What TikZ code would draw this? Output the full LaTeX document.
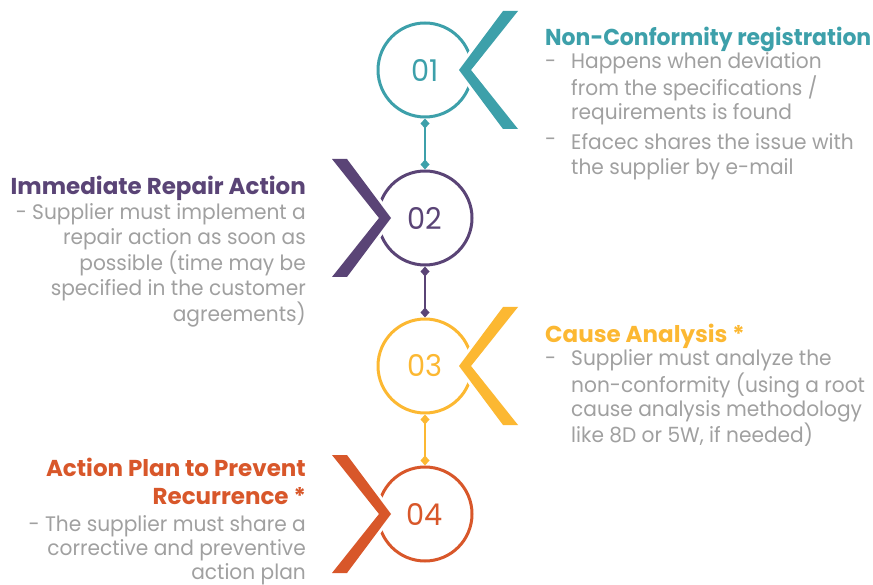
\documentclass[tikz,border=0pt]{standalone}
\usepackage{fontspec}
\setmainfont{Poppins}[FakeStretch=0.96, BoldFeatures={FakeStretch=1}]
\usetikzlibrary{arrows.meta,calc,positioning}
\definecolor{ncteal}{RGB}{61,160,170}
\definecolor{ncpurple}{RGB}{90,68,118}
\definecolor{ncyellow}{RGB}{252,184,50}
\definecolor{ncorange}{RGB}{216,87,42}
\definecolor{ncgrey}{RGB}{160,160,160}
\tikzset{
    stage/.style = {draw, circle, line width=3pt,
        minimum size=94pt, inner sep=0pt,
        font=\fontsize{30}{30}\selectfont},
    link/.style = {line width=2.5pt,
        arrows={Diamond[length=10pt,width=9pt]-Diamond[length=10pt,width=9pt]}},
    title/.style = {inner sep=0pt, font=\fontsize{23}{28}\selectfont\bfseries},
    body/.style = {inner sep=0pt, text=ncgrey, font=\fontsize{21}{24.5}\selectfont}
}
% chevron beside a stage: #1 node, #2 side (1 right, -1 left), #3 colour
\newcommand{\chevron}[3]{%
    \fill[#3, preaction={draw=white, line width=6pt, line join=miter}]
        ($(#1)+(#2*78,-59)$) -- ($(#1)+(#2*34,0)$) -- ($(#1)+(#2*78,59)$)
        -- ($(#1)+(#2*93,59)$) -- ($(#1)+(#2*46,0)$) -- ($(#1)+(#2*93,-59)$) -- cycle;}
% text blocks: first baseline on the node's base
\newcommand{\leftblock}[1]{\parbox[t]{300pt}{\raggedleft #1}}
\newcommand{\rightblock}[1]{\parbox[t]{300pt}{\raggedright #1}}

\begin{document}
\begin{tikzpicture}[x=1pt, y=-1pt]
    \useasboundingbox (0,0) rectangle (873,585);
    % the four stages
    \node [stage, draw=ncteal, text=ncteal] (c1) at (425,70) {01};
    \node [stage, draw=ncpurple, text=ncpurple, below of=c1, node distance=148pt] (c2) {02};
    \node [stage, draw=ncyellow, text=ncyellow, below of=c2, node distance=148pt] (c3) {03};
    \node [stage, draw=ncorange, text=ncorange, below of=c3, node distance=148pt] (c4) {04};
    \draw [link, ncteal] (c1) -- (c2);
    \draw [link, ncpurple] (c2) -- (c3);
    \draw [link, ncyellow] (c3) -- (c4);
    \chevron{c1}{1}{ncteal}
    \chevron{c2}{-1}{ncpurple}
    \chevron{c3}{1}{ncyellow}
    \chevron{c4}{-1}{ncorange}
    % 01
    \node [title, text=ncteal, anchor=base west] (t1) at (545,46)
        {\scalebox{0.955}[1]{Non-Conformity registration}};
    \node [body, anchor=base west] (d1a) at (545,69) {-};
    \node [body, anchor=base west] (d1) at (571,69) {\rightblock{%
        Happens when deviation\\
        from the specifications /\\
        requirements is found\\[5.5pt]
        Efacec shares the issue with\\
        the supplier by e-mail}};
    \node [body, anchor=base west] (d1b) at (545,147) {-};
    % 02
    \node [title, text=ncpurple, anchor=base east] (t2) at (306,195) {Immediate Repair Action};
    \node [body, anchor=base east] (d2) at (306,220) {\leftblock{%
        - Supplier must implement a\\
        repair action as soon as\\
        possible (time may be\\
        specified in the customer\\
        agreements)}};
    % 03
    \node [title, text=ncyellow, anchor=base west] (t3) at (545,343) {Cause Analysis *};
    \node [body, anchor=base west] (d3a) at (545,366) {-};
    \node [body, anchor=base west] (d3) at (571,366) {\rightblock{%
        Supplier must analyze the\\
        non-conformity (using a root\\
        cause analysis methodology\\
        like 8D or 5W, if needed)}};
    % 04
    \node [title, text=ncorange, anchor=base east] (t4) at (306,476) {\leftblock{%
        Action Plan to Prevent\\
        Recurrence *}};
    \node [body, anchor=base east, font=\fontsize{21}{24}\selectfont] (d4) at (306,531) {\leftblock{%
        - The supplier must share a\\
        corrective and preventive\\
        action plan}};
\end{tikzpicture}
\end{document}
